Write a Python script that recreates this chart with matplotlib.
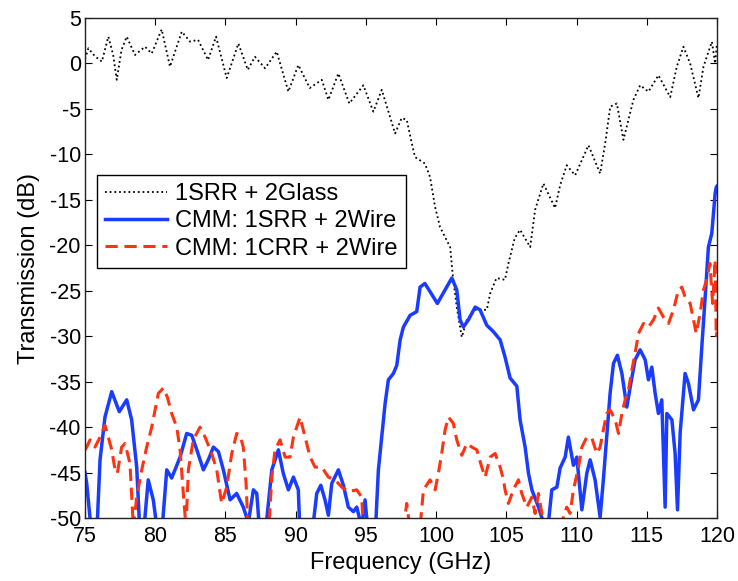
import matplotlib
matplotlib.use("Agg")
import matplotlib.pyplot as plt

plt.rcParams["font.family"] = ["Liberation Sans", "DejaVu Sans"]
plt.rcParams["axes.unicode_minus"] = False

# 1SRR + 2Glass (black dotted)
glass_f = [75.0, 75.24, 75.7, 76.2, 76.66, 77.0, 77.26, 77.6, 77.97, 78.56,
           79.27, 79.75, 80.46, 81.05, 81.89, 82.48, 83.05, 83.76, 84.33, 85.09,
           85.92, 86.59, 87.1, 87.82, 88.65, 89.48, 90.19, 91.0, 91.86, 92.33,
           93.04, 93.82, 94.82, 95.53, 96.13, 97.08, 97.55, 97.91, 98.27, 98.5,
           99.2, 99.57, 99.93, 100.28, 101.0, 101.2, 101.47, 101.83, 102.19, 102.78,
           103.61, 103.85, 104.3, 104.9, 105.15, 105.6, 105.98, 106.7, 107.05, 107.64,
           108.47, 108.83, 109.3, 109.9, 110.85, 111.68, 112.04, 112.4, 112.87, 113.34,
           114.05, 114.53, 115.12, 115.83, 116.67, 117.14, 117.61, 118.09, 118.68, 119.04,
           119.64, 119.87, 120.0]
glass_db = [0.5, 1.67, 0.8, 0.2, 2.95, 1.0, -1.8, 1.5, 2.95, 0.93,
            1.84, 1.1, 3.75, -0.35, 3.5, 2.4, 2.6, 0.38, 2.95, -1.6,
            2.2, -0.7, 0.74, -0.53, 1.3, -3.1, -0.17, -2.7, -1.8, -4.0,
            -1.1, -4.4, -2.4, -5.3, -2.9, -7.7, -6.0, -6.2, -8.8, -10.3,
            -11.0, -12.5, -15.8, -18.0, -20.2, -23.5, -26.8, -30.1, -28.2, -27.1,
            -27.1, -25.3, -23.6, -23.8, -22.0, -19.2, -18.3, -20.2, -16.1, -13.2,
            -15.9, -13.4, -11.2, -12.3, -9.0, -12.1, -8.8, -4.75, -4.4, -8.4,
            -4.0, -2.4, -3.1, -1.3, -3.7, -0.35, 1.84, 0.0, -3.8, -0.35,
            2.4, 0.0, 2.2]

# CMM: 1SRR + 2Wire (blue solid)
srr_f = [75.0, 75.12, 75.48, 75.83, 76.07, 76.42, 76.9, 77.44, 77.97, 78.32,
         78.68, 78.92, 79.15, 79.5, 79.86, 80.2, 80.45, 80.82, 81.17, 81.77,
         82.24, 82.6, 82.96, 83.43, 83.78, 84.14, 84.5, 84.85, 85.33, 85.8,
         86.27, 86.63, 86.99, 87.23, 87.46, 87.82, 88.3, 88.77, 89.12, 89.48,
         89.84, 90.19, 90.31, 91.15, 91.5, 91.79, 92.09, 92.33, 92.57, 93.04,
         93.4, 93.75, 94.11, 94.35, 94.7, 94.94, 95.18, 95.66, 95.89, 96.13,
         96.37, 96.6, 96.96, 97.2, 97.44, 97.67, 98.15, 98.62, 98.86, 99.2,
         99.57, 100.09, 100.64, 101.12, 101.47, 101.71, 101.94, 102.3, 102.78, 103.13,
         103.61, 104.08, 104.56, 104.91, 105.27, 105.75, 105.98, 106.34, 106.58, 106.82,
         107.29, 107.64, 108.0, 108.24, 108.6, 108.83, 109.19, 109.42, 109.78, 110.02,
         110.38, 110.73, 110.97, 111.32, 111.68, 111.91, 112.15, 112.39, 112.63, 112.91,
         113.23, 113.58, 113.82, 114.17, 114.53, 114.89, 115.12, 115.36, 115.6, 115.83,
         116.07, 116.31, 116.43, 116.79, 117.02, 117.19, 117.38, 117.73, 117.97, 118.33,
         118.68, 118.92, 119.16, 119.39, 119.63, 119.75, 119.87, 119.95, 120.0]
srr_db = [-45.0, -46.2, -52.0, -52.0, -43.6, -38.9, -36.1, -38.3, -37.0, -39.2,
          -44.4, -52.0, -52.0, -45.8, -48.0, -52.0, -52.0, -44.7, -45.6, -43.3,
          -40.7, -40.9, -42.5, -44.7, -43.6, -42.2, -42.7, -44.7, -48.0, -47.3,
          -48.8, -50.5, -46.9, -47.3, -52.0, -52.0, -44.7, -42.5, -45.1, -46.9,
          -45.5, -46.9, -52.0, -52.0, -47.3, -46.4, -48.0, -49.7, -46.2, -44.7,
          -46.4, -48.8, -49.3, -48.8, -51.0, -48.0, -52.0, -52.0, -44.7, -41.1,
          -37.4, -34.8, -34.1, -33.2, -30.4, -29.0, -27.7, -27.3, -24.6, -24.2,
          -25.1, -26.4, -24.9, -23.6, -24.9, -28.2, -29.0, -28.2, -26.8, -27.1,
          -28.8, -29.5, -30.4, -32.3, -34.6, -35.5, -39.2, -42.2, -45.1, -46.9,
          -48.8, -50.5, -50.5, -46.9, -46.6, -44.5, -43.3, -41.1, -44.2, -43.3,
          -49.1, -45.1, -43.6, -45.8, -49.9, -45.8, -41.1, -36.3, -33.0, -32.1,
          -34.1, -37.8, -35.6, -32.6, -31.5, -32.6, -34.8, -33.4, -36.3, -38.5,
          -37.0, -48.8, -38.5, -39.2, -42.9, -49.1, -40.6, -34.1, -35.2, -38.1,
          -37.0, -31.2, -25.7, -20.2, -18.7, -16.5, -14.3, -13.6, -13.5]

# CMM: 1CRR + 2Wire (red dashed)
crr_f = [75.0, 75.12, 75.36, 75.71, 76.07, 76.42, 76.66, 76.9, 77.14, 77.3,
         77.61, 77.85, 78.2, 78.44, 78.68, 79.04, 79.39, 79.75, 80.22, 80.58,
         80.86, 81.17, 81.53, 81.77, 82.0, 82.19, 82.36, 82.71, 83.19, 83.55,
         84.02, 84.38, 84.73, 85.09, 85.45, 85.8, 86.04, 86.27, 86.47, 86.63,
         88.06, 88.3, 88.53, 88.89, 89.25, 89.6, 89.84, 90.31, 90.67, 91.03,
         91.38, 91.86, 92.33, 92.81, 93.28, 93.75, 94.35, 94.7, 94.82, 95.1,
         97.6, 97.91, 98.2, 98.86, 99.1, 99.57, 99.93, 100.16, 100.4, 100.64,
         100.88, 101.23, 101.47, 101.83, 102.19, 102.54, 102.9, 103.25, 103.49, 103.85,
         104.2, 104.56, 104.8, 104.91, 105.15, 105.5, 105.86, 106.1, 106.46, 106.82,
         107.05, 107.29, 107.64, 107.88, 108.83, 109.3, 109.54, 109.78, 110.14, 110.38,
         110.73, 111.09, 111.44, 111.68, 111.91, 112.15, 112.39, 112.75, 112.99, 113.23,
         113.46, 113.7, 113.94, 114.17, 114.41, 114.77, 115.12, 115.48, 115.83, 116.19,
         116.55, 116.9, 117.26, 117.5, 117.73, 118.09, 118.33, 118.52, 118.8, 119.04,
         119.27, 119.5, 119.69, 119.87, 119.95, 120.0]
crr_db = [-42.5, -42.2, -41.4, -42.2, -41.1, -39.8, -41.1, -42.5, -44.7, -45.1,
          -42.2, -41.8, -44.0, -51.0, -47.7, -44.7, -42.2, -40.0, -36.3, -35.7,
          -36.7, -38.5, -40.0, -42.5, -47.3, -51.0, -44.7, -41.4, -40.0, -41.1,
          -42.9, -44.7, -48.4, -46.6, -42.9, -40.7, -40.9, -42.2, -46.2, -52.0,
          -52.0, -45.5, -42.5, -41.4, -43.3, -43.3, -41.1, -38.9, -41.1, -43.3,
          -44.4, -44.4, -45.5, -45.8, -46.6, -47.1, -46.9, -47.7, -51.0, -52.0,
          -52.0, -48.4, -52.0, -51.0, -46.9, -45.8, -46.9, -45.1, -42.9, -40.3,
          -38.9, -39.6, -41.4, -43.1, -41.8, -42.2, -42.5, -44.4, -45.5, -43.3,
          -42.9, -44.4, -45.8, -46.9, -48.4, -46.9, -45.8, -47.3, -48.8, -47.7,
          -49.5, -47.3, -50.5, -51.0, -51.0, -48.8, -49.5, -46.9, -44.4, -42.2,
          -41.1, -41.2, -42.9, -42.2, -40.3, -38.5, -38.1, -39.2, -40.7, -38.5,
          -37.0, -35.9, -33.7, -31.9, -29.7, -28.6, -29.0, -28.2, -26.9, -27.9,
          -28.6, -27.1, -24.9, -24.6, -25.7, -26.4, -28.2, -29.7, -27.5, -24.9,
          -23.8, -22.0, -26.4, -21.6, -30.1, -29.5]

x_ticks = list(range(75, 121, 5))
y_ticks = list(range(-50, 6, 5))

fig = plt.figure(figsize=(7.38, 5.81), dpi=100)
ax = fig.add_axes([0.1152, 0.1084, 0.8563, 0.8606])

ax.plot(glass_f, glass_db, color="black", linestyle=(0, (1, 1.6)), lw=1.3,
        label="1SRR + 2Glass")
ax.plot(srr_f, srr_db, color="#1a3cff", linestyle="-", lw=2.5,
        label="CMM: 1SRR + 2Wire")
ax.plot(crr_f, crr_db, color="#ff3311", linestyle=(0, (4, 2.2)), lw=2.2,
        label="CMM: 1CRR + 2Wire")

ax.set_xlim(75, 120)
ax.set_ylim(-50, 5)
ax.set_xticks(x_ticks)
ax.set_yticks(y_ticks)
ax.tick_params(direction="in", length=5, width=0.8, top=True, right=True,
               labelsize=15.5)
ax.tick_params(axis="x", pad=6)
ax.tick_params(axis="y", pad=3)
for s in ax.spines.values():
    s.set_linewidth(1.0)
    s.set_color("#222222")

ax.set_xlabel("Frequency (GHz)", fontsize=17, labelpad=3)
ax.set_ylabel("Transmission (dB)", fontsize=17, labelpad=7)

leg = ax.legend(loc="upper left", bbox_to_anchor=(0.019, 0.686), borderaxespad=0,
                fontsize=17, frameon=True, fancybox=False, edgecolor="black",
                framealpha=1, handlelength=2.6, handletextpad=0.35,
                labelspacing=0.22, borderpad=0.35)
leg.get_frame().set_linewidth(1.0)

fig.savefig("out.png", dpi=100)
